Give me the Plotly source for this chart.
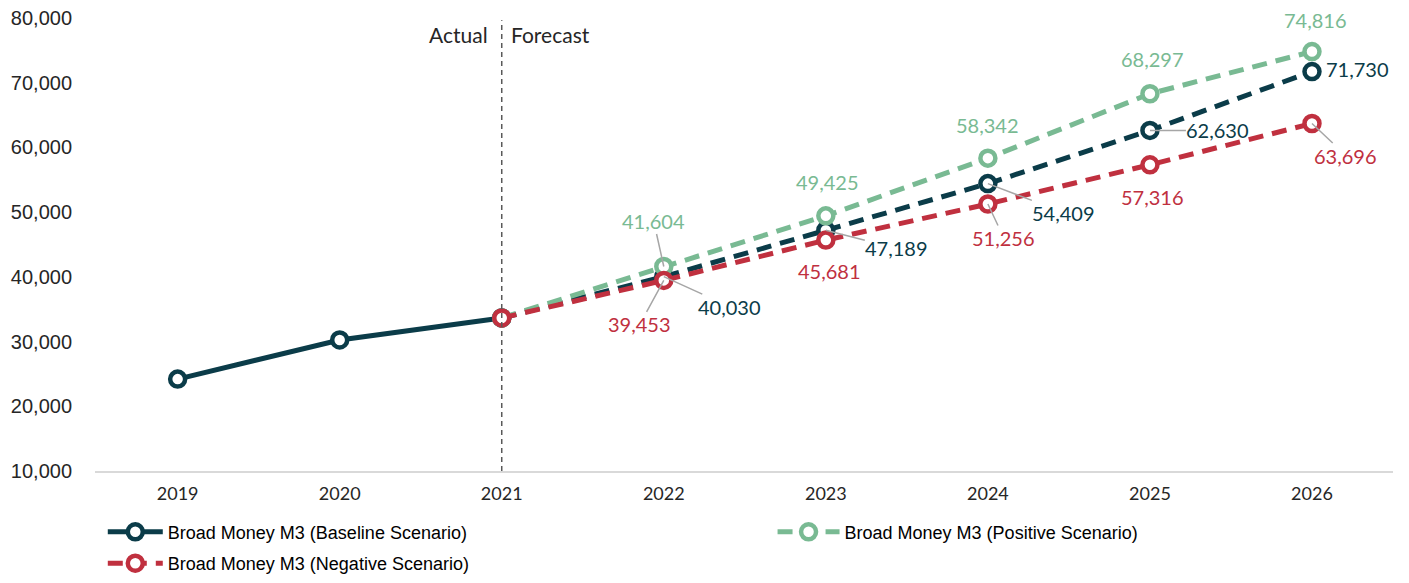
import plotly.graph_objects as go

years = ["2019", "2020", "2021", "2022", "2023", "2024", "2025", "2026"]
actual_years = ["2019", "2020", "2021"]
actual_vals = [24200, 30250, 33650]
fc_years = ["2021", "2022", "2023", "2024", "2025", "2026"]
baseline_fc = [33650, 40030, 47189, 54409, 62630, 71730]
positive_fc = [33650, 41604, 49425, 58342, 68297, 74816]
negative_fc = [33650, 39453, 45681, 51256, 57316, 63696]
y_ticks = [10000, 20000, 30000, 40000, 50000, 60000, 70000, 80000]

C_BASE = "#0B3C49"
C_POS = "#79BA93"
C_NEG = "#C0303F"
GRAY = "#A6A6A6"
LABEL_FONT = "Lato"

xi = {y: i for i, y in enumerate(years)}

fig = go.Figure()
mk = lambda c: dict(symbol="circle", size=15, color="white", line=dict(color=c, width=4.5))

fig.add_trace(go.Scatter(x=[xi[y] for y in actual_years], y=actual_vals, mode="lines+markers",
                         line=dict(color=C_BASE, width=5), marker=mk(C_BASE),
                         name="Broad Money M3 (Baseline Scenario)", legend="legend", legendgroup="b"))
fig.add_trace(go.Scatter(x=[xi[y] for y in fc_years], y=baseline_fc, mode="lines+markers",
                         line=dict(color=C_BASE, width=5, dash="15px,9px"), marker=mk(C_BASE),
                         showlegend=False))
fig.add_trace(go.Scatter(x=[xi[y] for y in fc_years], y=positive_fc, mode="lines+markers",
                         line=dict(color=C_POS, width=5, dash="15px,9px"), marker=mk(C_POS),
                         name="Broad Money M3 (Positive Scenario)", legend="legend2"))
fig.add_trace(go.Scatter(x=[xi[y] for y in fc_years], y=negative_fc, mode="lines+markers",
                         line=dict(color=C_NEG, width=5, dash="15px,9px"), marker=mk(C_NEG),
                         name="Broad Money M3 (Negative Scenario)", legend="legend", legendgroup="n"))

# label offsets (px) and whether a leader line is drawn
pos_off = [(-10, -45, True), (2, -34, False), (0, -33, False), (3, -35, False), (4, -32, False)]
base_off = [(66, 30, True), (71, 18, True), (76, 29, True), (68, 0, True), (46, -3, False)]
neg_off = [(-24, 44, True), (4, 31, False), (16, 34, True), (3, 32, False), (34, 32, True)]

for vals, offs, col in [(positive_fc, pos_off, C_POS), (baseline_fc, base_off, C_BASE), (negative_fc, neg_off, C_NEG)]:
    for y, v, (ax, ay, lead) in zip(fc_years[1:], vals[1:], offs):
        fig.add_annotation(x=xi[y], y=v, text=f"{v:,}", showarrow=True, ax=ax, ay=ay,
                           arrowhead=0, arrowwidth=1.5 if lead else 0.1,
                           arrowcolor=GRAY if lead else "rgba(0,0,0,0)",
                           borderpad=0,
                           font=dict(family=LABEL_FONT, size=20, color=col))

fig.add_shape(type="line", xref="x", yref="paper", x0=xi["2021"], x1=xi["2021"], y0=0, y1=0.995,
              line=dict(color="#595959", width=1.5, dash="5px,4px"))
fig.add_annotation(x=xi["2021"], y=1.0, xref="x", yref="paper", text="Actual", showarrow=False,
                   xanchor="right", yanchor="top", xshift=-12, yshift=-2,
                   font=dict(family=LABEL_FONT, size=21, color="#262626"))
fig.add_annotation(x=xi["2021"], y=1.0, xref="x", yref="paper", text="Forecast", showarrow=False,
                   xanchor="left", yanchor="top", xshift=7, yshift=-2,
                   font=dict(family=LABEL_FONT, size=21, color="#262626"))

fig.update_layout(
    width=1393, height=567,
    margin=dict(l=87, r=8, t=10, b=104, autoexpand=False),
    plot_bgcolor="white", paper_bgcolor="white",
    xaxis=dict(tickmode="array", tickvals=list(range(len(years))), ticktext=years,
               range=[-0.51, 7.5], showgrid=False, zeroline=False, automargin=False,
               showline=True, linecolor="#D9D9D9", linewidth=2, ticks="", ticklabelstandoff=5,
               tickfont=dict(family=LABEL_FONT, size=18, color="#262626")),
    yaxis=dict(range=[10000, 80000], tickvals=y_ticks, tickformat=",", showgrid=False,
               zeroline=False, showline=False, ticks="", ticklabelstandoff=22, automargin=False,
               ticklabeloverflow="allow",
               tickfont=dict(family="Liberation Sans", size=20, color="#262626")),
    legend=dict(orientation="v", x=0.006, xanchor="left", y=-0.094, yanchor="top",
                font=dict(family="Liberation Sans", size=18, color="#000000"),
                itemwidth=55, tracegroupgap=5, bgcolor="rgba(0,0,0,0)"),
    legend2=dict(orientation="v", x=0.522, xanchor="left", y=-0.094, yanchor="top",
                 font=dict(family="Liberation Sans", size=18, color="#000000"),
                 itemwidth=62, bgcolor="rgba(0,0,0,0)"),
)

fig.write_html("out.html")
